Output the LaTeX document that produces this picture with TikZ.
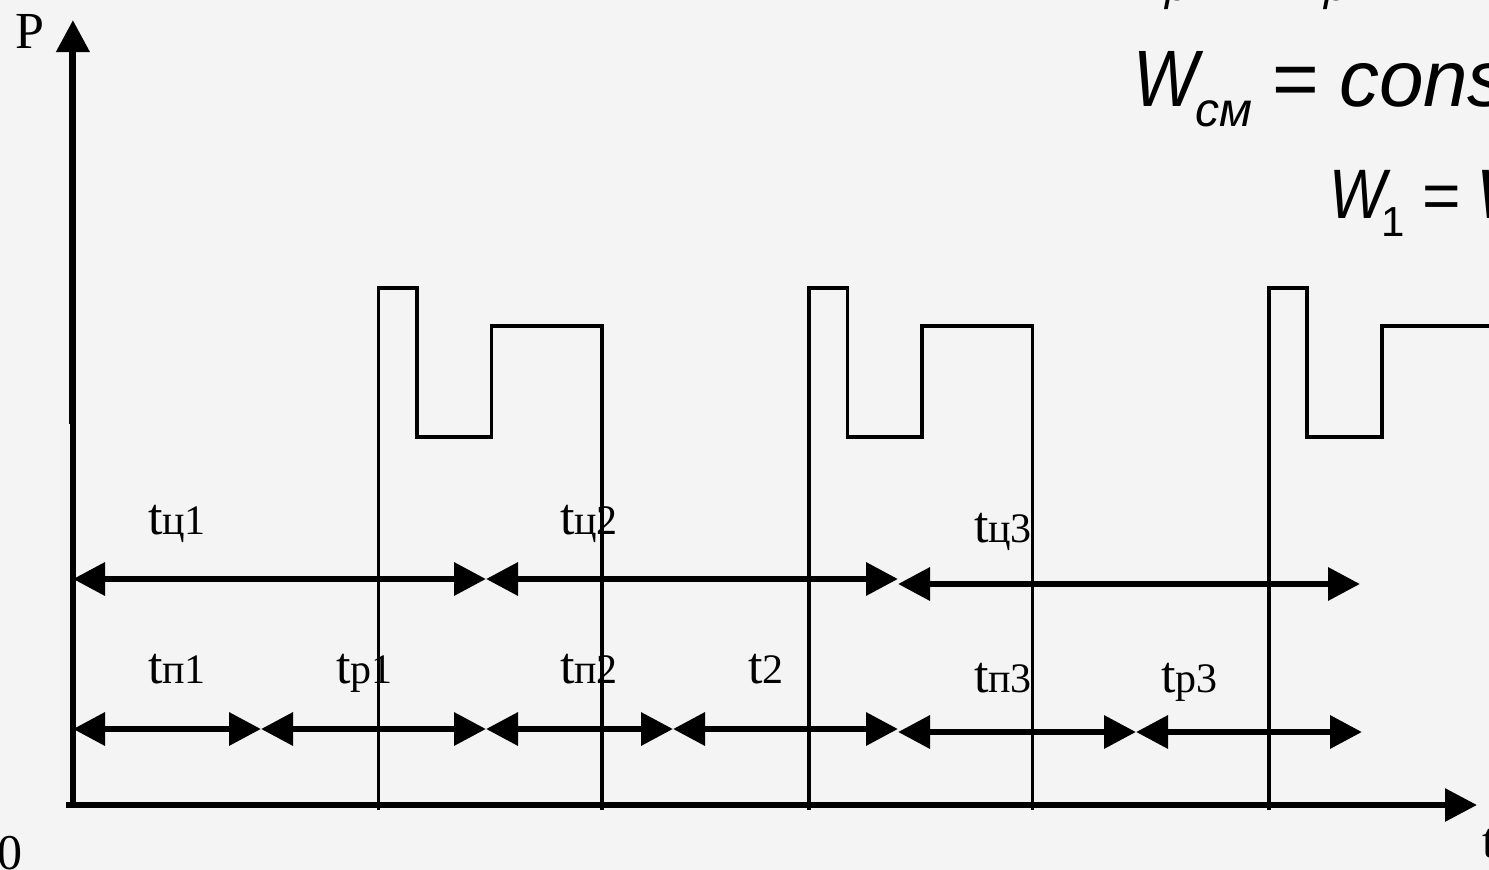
\documentclass[tikz,border=0pt]{standalone}
\usepackage{fontspec}
\setmainfont{Liberation Serif}
\newfontfamily\formfont{Liberation Sans}
\usetikzlibrary{arrows.meta}
\definecolor{bgc}{HTML}{F4F4F4}
\newcommand{\tl}[2]{{\fontsize{52pt}{52pt}\selectfont #1}{\fontsize{42pt}{42pt}\selectfont #2}}
\newcommand{\ff}[2]{{\formfont\fontsize{#1pt}{#1pt}\selectfont #2}}
\tikzset{
  tipx/.tip={Triangle[length=32pt,width=32pt]},
  axisline/.style={line width=6pt},
  span/.style={line width=6.5pt,tipx-tipx},
  pulse/.style={line width=3.8pt,line join=miter},
  lab/.style={inner sep=0pt,outer sep=0pt,anchor=base west,text=black},
}
\begin{document}
\begin{tikzpicture}[x=1pt,y=-1pt]
\useasboundingbox (0,0) rectangle (1489,870);
\clip (0,0) rectangle (1489,870);
\fill[bgc] (0,0) rectangle (1489,870);
% axes
\coordinate (o) at (73.4,805);
\coordinate (yj) at (73.4,424);
\coordinate (yj2) at (72.9,424);
\coordinate (ytop) at (72.9,20);
\coordinate (xs) at (66,805);
\coordinate (xe) at (1477,805);
\draw[axisline] (o) -- (yj);
\draw[axisline,line width=7pt,-tipx] (yj2) -- (ytop);
\draw[axisline,-tipx] (xs) -- (xe);
% pulses
\coordinate (a0) at (378.5,810); \coordinate (a1) at (378.5,288); \coordinate (a2) at (416.7,288);
\coordinate (a3) at (416.7,437); \coordinate (a4) at (491.5,437); \coordinate (a5) at (491.5,326);
\coordinate (a6) at (602,326); \coordinate (a7) at (602,810);
\draw[pulse] (a0)--(a1)--(a2)--(a3)--(a4)--(a5)--(a6)--(a7);
\coordinate (b0) at (809,810); \coordinate (b1) at (809,288); \coordinate (b2) at (847.5,288);
\coordinate (b3) at (847.5,437); \coordinate (b4) at (922,437); \coordinate (b5) at (922,326);
\coordinate (b6) at (1032.5,326); \coordinate (b7) at (1032.5,810);
\draw[pulse] (b0)--(b1)--(b2)--(b3)--(b4)--(b5)--(b6)--(b7);
\coordinate (c0) at (1269,810); \coordinate (c1) at (1269,288); \coordinate (c2) at (1307,288);
\coordinate (c3) at (1307,437); \coordinate (c4) at (1382,437); \coordinate (c5) at (1382,326);
\coordinate (c6) at (1492,326);
\draw[pulse] (c0)--(c1)--(c2)--(c3)--(c4)--(c5)--(c6);
% spans upper
\coordinate (u0) at (73,579); \coordinate (u1) at (486,579); \coordinate (u2) at (898,579);
\coordinate (u3) at (898,584); \coordinate (u4) at (1360,584);
\draw[span] (u0)--(u1);
\draw[span] (u1)--(u2);
\draw[span] (u3)--(u4);
% spans lower
\coordinate (l0) at (73,729); \coordinate (l1) at (261,729); \coordinate (l2) at (486,729);
\coordinate (l3) at (673,729); \coordinate (l4) at (898,729);
\coordinate (l5) at (898,732); \coordinate (l6) at (1136,732); \coordinate (l7) at (1362,732);
\draw[span] (l0)--(l1);
\draw[span] (l1)--(l2);
\draw[span] (l2)--(l3);
\draw[span] (l3)--(l4);
\draw[span] (l5)--(l6);
\draw[span] (l6)--(l7);
% labels
\node[lab] (tc1) at (148,534) {\tl{t}{ц1}};
\node[lab] (tc2) at (560,534) {\tl{t}{ц2}};
\node[lab] (tc3) at (974,542) {\tl{t}{ц3}};
\node[lab] (tp1) at (148,683) {\tl{t}{п1}};
\node[lab] (tr1) at (336,683) {\tl{t}{р1}};
\node[lab] (tp2) at (560,683) {\tl{t}{п2}};
\node[lab] (t2) at (748,683) {\tl{t}{2}};
\node[lab] (tp3) at (974,692) {\tl{t}{п3}};
\node[lab] (tr3) at (1161,692) {\tl{t}{р3}};
\node[lab] (pl) at (15,48) {\fontsize{52pt}{52pt}\selectfont P};
\node[lab] (zero) at (-2,869) {\fontsize{50pt}{50pt}\selectfont 0};
\node[lab] (tl) at (1482,857) {\fontsize{50pt}{50pt}\selectfont t};
% formulas, cut by the picture's edge
\node[lab] (f0a) at (1165,1) {\ff{44}{\itshape p}};
\node[lab] (f0ai) at (1187,1) {\ff{44}{\itshape 1}};
\node[lab] (f0b) at (1324,1) {\ff{44}{\itshape p}};
\node[lab] (f0bi) at (1351,1) {\ff{44}{\itshape 2}};
\node[lab,xscale=0.86] (f1a) at (1133,106) {\ff{80}{\itshape W}};
\node[lab] (f1b) at (1195,126) {\ff{48}{\itshape см}};
\node[lab] (f1c) at (1272,106) {\ff{80}{=}};
\node[lab] (f1d) at (1339,106) {\ff{80}{\itshape const}};
\node[lab,xscale=0.86] (f2a) at (1329,218) {\ff{70}{\itshape W}};
\node[lab] (f2b) at (1381,236) {\ff{42}{1}};
\node[lab] (f2c) at (1422,218) {\ff{66}{=}};
\node[lab] (f2d) at (1476,218) {\ff{70}{\itshape W}};
\end{tikzpicture}
\end{document}
